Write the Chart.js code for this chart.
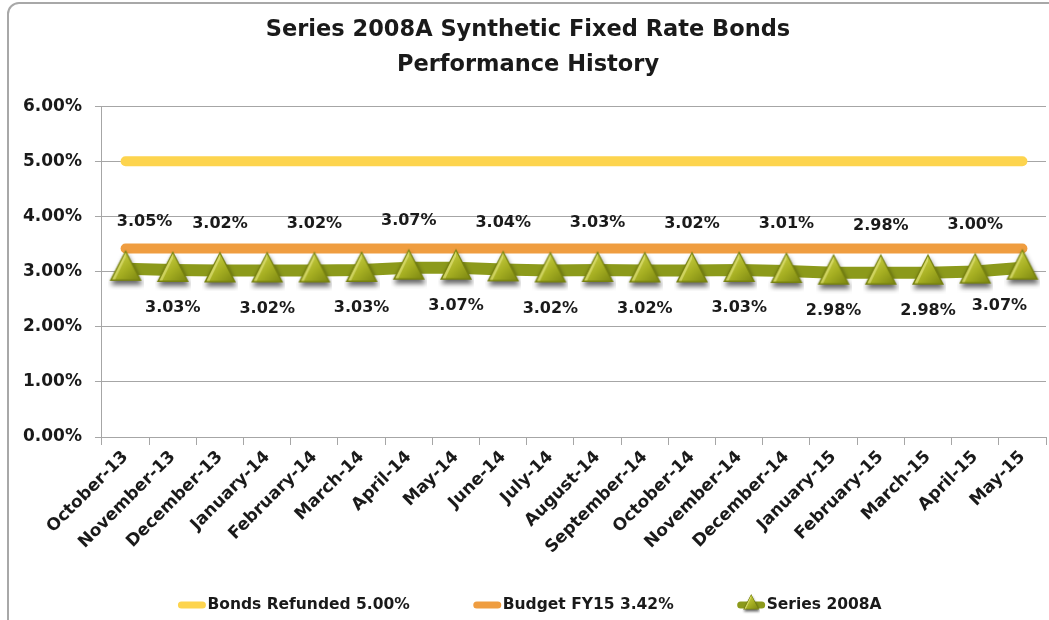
<!DOCTYPE html>
<html>
<head>
<meta charset="utf-8">
<script src="https://cdn.jsdelivr.net/npm/chart.js@4/dist/chart.umd.min.js"></script>
<style>
html,body{margin:0;padding:0;background:#fff;overflow:hidden;}
#wrap{position:relative;width:1049px;height:620px;overflow:hidden;}
#frame{position:absolute;left:7px;top:2px;width:1080px;height:640px;border:2px solid #a8a8a8;border-radius:12px;box-sizing:border-box;}
#c{position:absolute;left:0;top:0;}
</style>
</head>
<body>
<div id="wrap"><div id="frame"></div><canvas id="c" width="1049" height="620"></canvas></div>
<script>
const titleLines = ["Series 2008A Synthetic Fixed Rate Bonds", "Performance History"];
const categories = ["October-13","November-13","December-13","January-14","February-14","March-14","April-14","May-14","June-14","July-14","August-14","September-14","October-14","November-14","December-14","January-15","February-15","March-15","April-15","May-15"];
const bondsRefunded = [5.00,5.00,5.00,5.00,5.00,5.00,5.00,5.00,5.00,5.00,5.00,5.00,5.00,5.00,5.00,5.00,5.00,5.00,5.00,5.00];
const budgetFY15 = [3.42,3.42,3.42,3.42,3.42,3.42,3.42,3.42,3.42,3.42,3.42,3.42,3.42,3.42,3.42,3.42,3.42,3.42,3.42,3.42];
const series2008A = [3.05,3.03,3.02,3.02,3.02,3.03,3.07,3.07,3.04,3.02,3.03,3.02,3.02,3.03,3.01,2.98,2.98,2.98,3.00,3.07];
const seriesNames = ["Bonds Refunded 5.00%", "Budget FY15 3.42%", "Series 2008A"];
const yTicks = [0,1,2,3,4,5,6];

const FONT = '"DejaVu Sans", "Open Sans", sans-serif';
const TEXT = '#1a1a1a';
const COLORS = ['#FDD44E', '#EF9D40', '#8C9A1B'];

function makeTriangle(){
  const c = document.createElement('canvas');
  c.width = 36; c.height = 42;
  const g = c.getContext('2d');
  g.save();
  g.shadowColor = 'rgba(0,0,0,0.6)';
  g.shadowBlur = 5; g.shadowOffsetY = 4; g.shadowOffsetX = 1;
  g.beginPath(); g.moveTo(18,2); g.lineTo(34,33); g.lineTo(2,33); g.closePath();
  g.fillStyle = '#76810F'; g.fill();
  g.restore();
  const grad = g.createLinearGradient(6,6,30,33);
  grad.addColorStop(0,'#D2D64C'); grad.addColorStop(0.55,'#A6AF22'); grad.addColorStop(1,'#7E8912');
  g.beginPath(); g.moveTo(18,4.5); g.lineTo(31.5,31.5); g.lineTo(4.5,31.5); g.closePath();
  g.fillStyle = grad; g.fill();
  g.beginPath(); g.moveTo(18,4.5); g.lineTo(4.5,31.5); g.lineTo(7.5,31.5); g.lineTo(18,9.5); g.closePath();
  g.fillStyle = 'rgba(240,240,150,0.5)'; g.fill();
  return c;
}
const triangleImg = makeTriangle();

const pointLabels = {
  id: 'pointLabels',
  afterDatasetsDraw(chart){
    const meta = chart.getDatasetMeta(2);
    const ctx = chart.ctx;
    ctx.save();
    ctx.font = 'bold 16px ' + FONT;
    ctx.fillStyle = TEXT;
    ctx.textAlign = 'center';
    ctx.textBaseline = 'middle';
    const n = meta.data.length;
    meta.data.forEach((pt, i) => {
      const above = i % 2 === 0;
      let x = pt.x;
      if (i === 0) x += 19;
      if (i === n - 1) x -= 23;
      const y = above ? pt.y - 47 : pt.y + 38;
      ctx.fillText(series2008A[i].toFixed(2) + '%', x, y);
    });
    ctx.restore();
  }
};

const bottomLegend = {
  id: 'bottomLegend',
  afterDraw(chart){
    const ctx = chart.ctx;
    ctx.save();
    ctx.font = 'bold 15.5px ' + FONT;
    ctx.textBaseline = 'middle';
    ctx.textAlign = 'left';
    const lineLen = 27, gapText = 2, gapItem = 64;
    const ds = chart.data.datasets;
    const widths = ds.map(d => lineLen + gapText + ctx.measureText(d.label).width);
    const total = widths.reduce((a,b)=>a+b,0) + gapItem*(ds.length-1);
    let x = 530 - total/2;
    const y = 605;
    ds.forEach((d, i) => {
      ctx.strokeStyle = d.borderColor;
      ctx.lineWidth = 7;
      ctx.lineCap = 'round';
      ctx.beginPath(); ctx.moveTo(x+3, y); ctx.lineTo(x+lineLen-3, y); ctx.stroke();
      if (i === 2) {
        const cx = x + lineLen/2;
        ctx.drawImage(triangleImg, cx-9, y-12, 18, 21);
      }
      ctx.fillStyle = TEXT;
      ctx.fillText(d.label, x + lineLen + gapText, y);
      x += widths[i] + gapItem;
    });
    ctx.restore();
  }
};

new Chart(document.getElementById('c'), {
  type: 'line',
  data: {
    labels: categories,
    datasets: [
      { label: seriesNames[0], data: bondsRefunded, borderColor: COLORS[0], backgroundColor: COLORS[0], borderWidth: 10, borderCapStyle: 'round', pointRadius: 0, order: 3 },
      { label: seriesNames[1], data: budgetFY15, borderColor: COLORS[1], backgroundColor: COLORS[1], borderWidth: 10, borderCapStyle: 'round', pointRadius: 0, order: 2 },
      { label: seriesNames[2], data: series2008A, borderColor: COLORS[2], backgroundColor: COLORS[2], borderWidth: 12, borderCapStyle: 'round', borderJoinStyle: 'round', pointStyle: triangleImg, pointRadius: 17, order: 1 }
    ]
  },
  options: {
    responsive: false,
    animation: false,
    events: [],
    layout: { autoPadding: false, padding: { left: 10, right: 3, top: 0, bottom: 65 } },
    plugins: {
      legend: { display: false },
      tooltip: { enabled: false },
      title: {
        display: true,
        text: titleLines,
        color: TEXT,
        font: { family: FONT, size: 22.5, weight: 'bold', lineHeight: 1.56 },
        padding: { top: 13, bottom: 23 }
      }
    },
    scales: {
      x: {
        offset: true,
        afterFit(scale){ scale.height = 118; },
        grid: { offset: true, drawOnChartArea: false, tickLength: 8, color: '#a6a6a6' },
        border: { color: '#a6a6a6' },
        ticks: { autoSkip: false, maxRotation: 45, minRotation: 45, padding: 2, color: TEXT, font: { family: FONT, size: 17, weight: 'bold' } }
      },
      y: {
        min: yTicks[0], max: yTicks[yTicks.length-1],
        afterBuildTicks(scale){ scale.ticks = yTicks.map(v => ({ value: v })); },
        grid: { color: '#a6a6a6', tickLength: 7 },
        border: { color: '#a6a6a6' },
        ticks: { padding: 13, color: TEXT, font: { family: FONT, size: 17, weight: 'bold' }, callback: v => Number(v).toFixed(2) + '%' }
      }
    }
  },
  plugins: [pointLabels, bottomLegend]
});
</script>
</body>
</html>
